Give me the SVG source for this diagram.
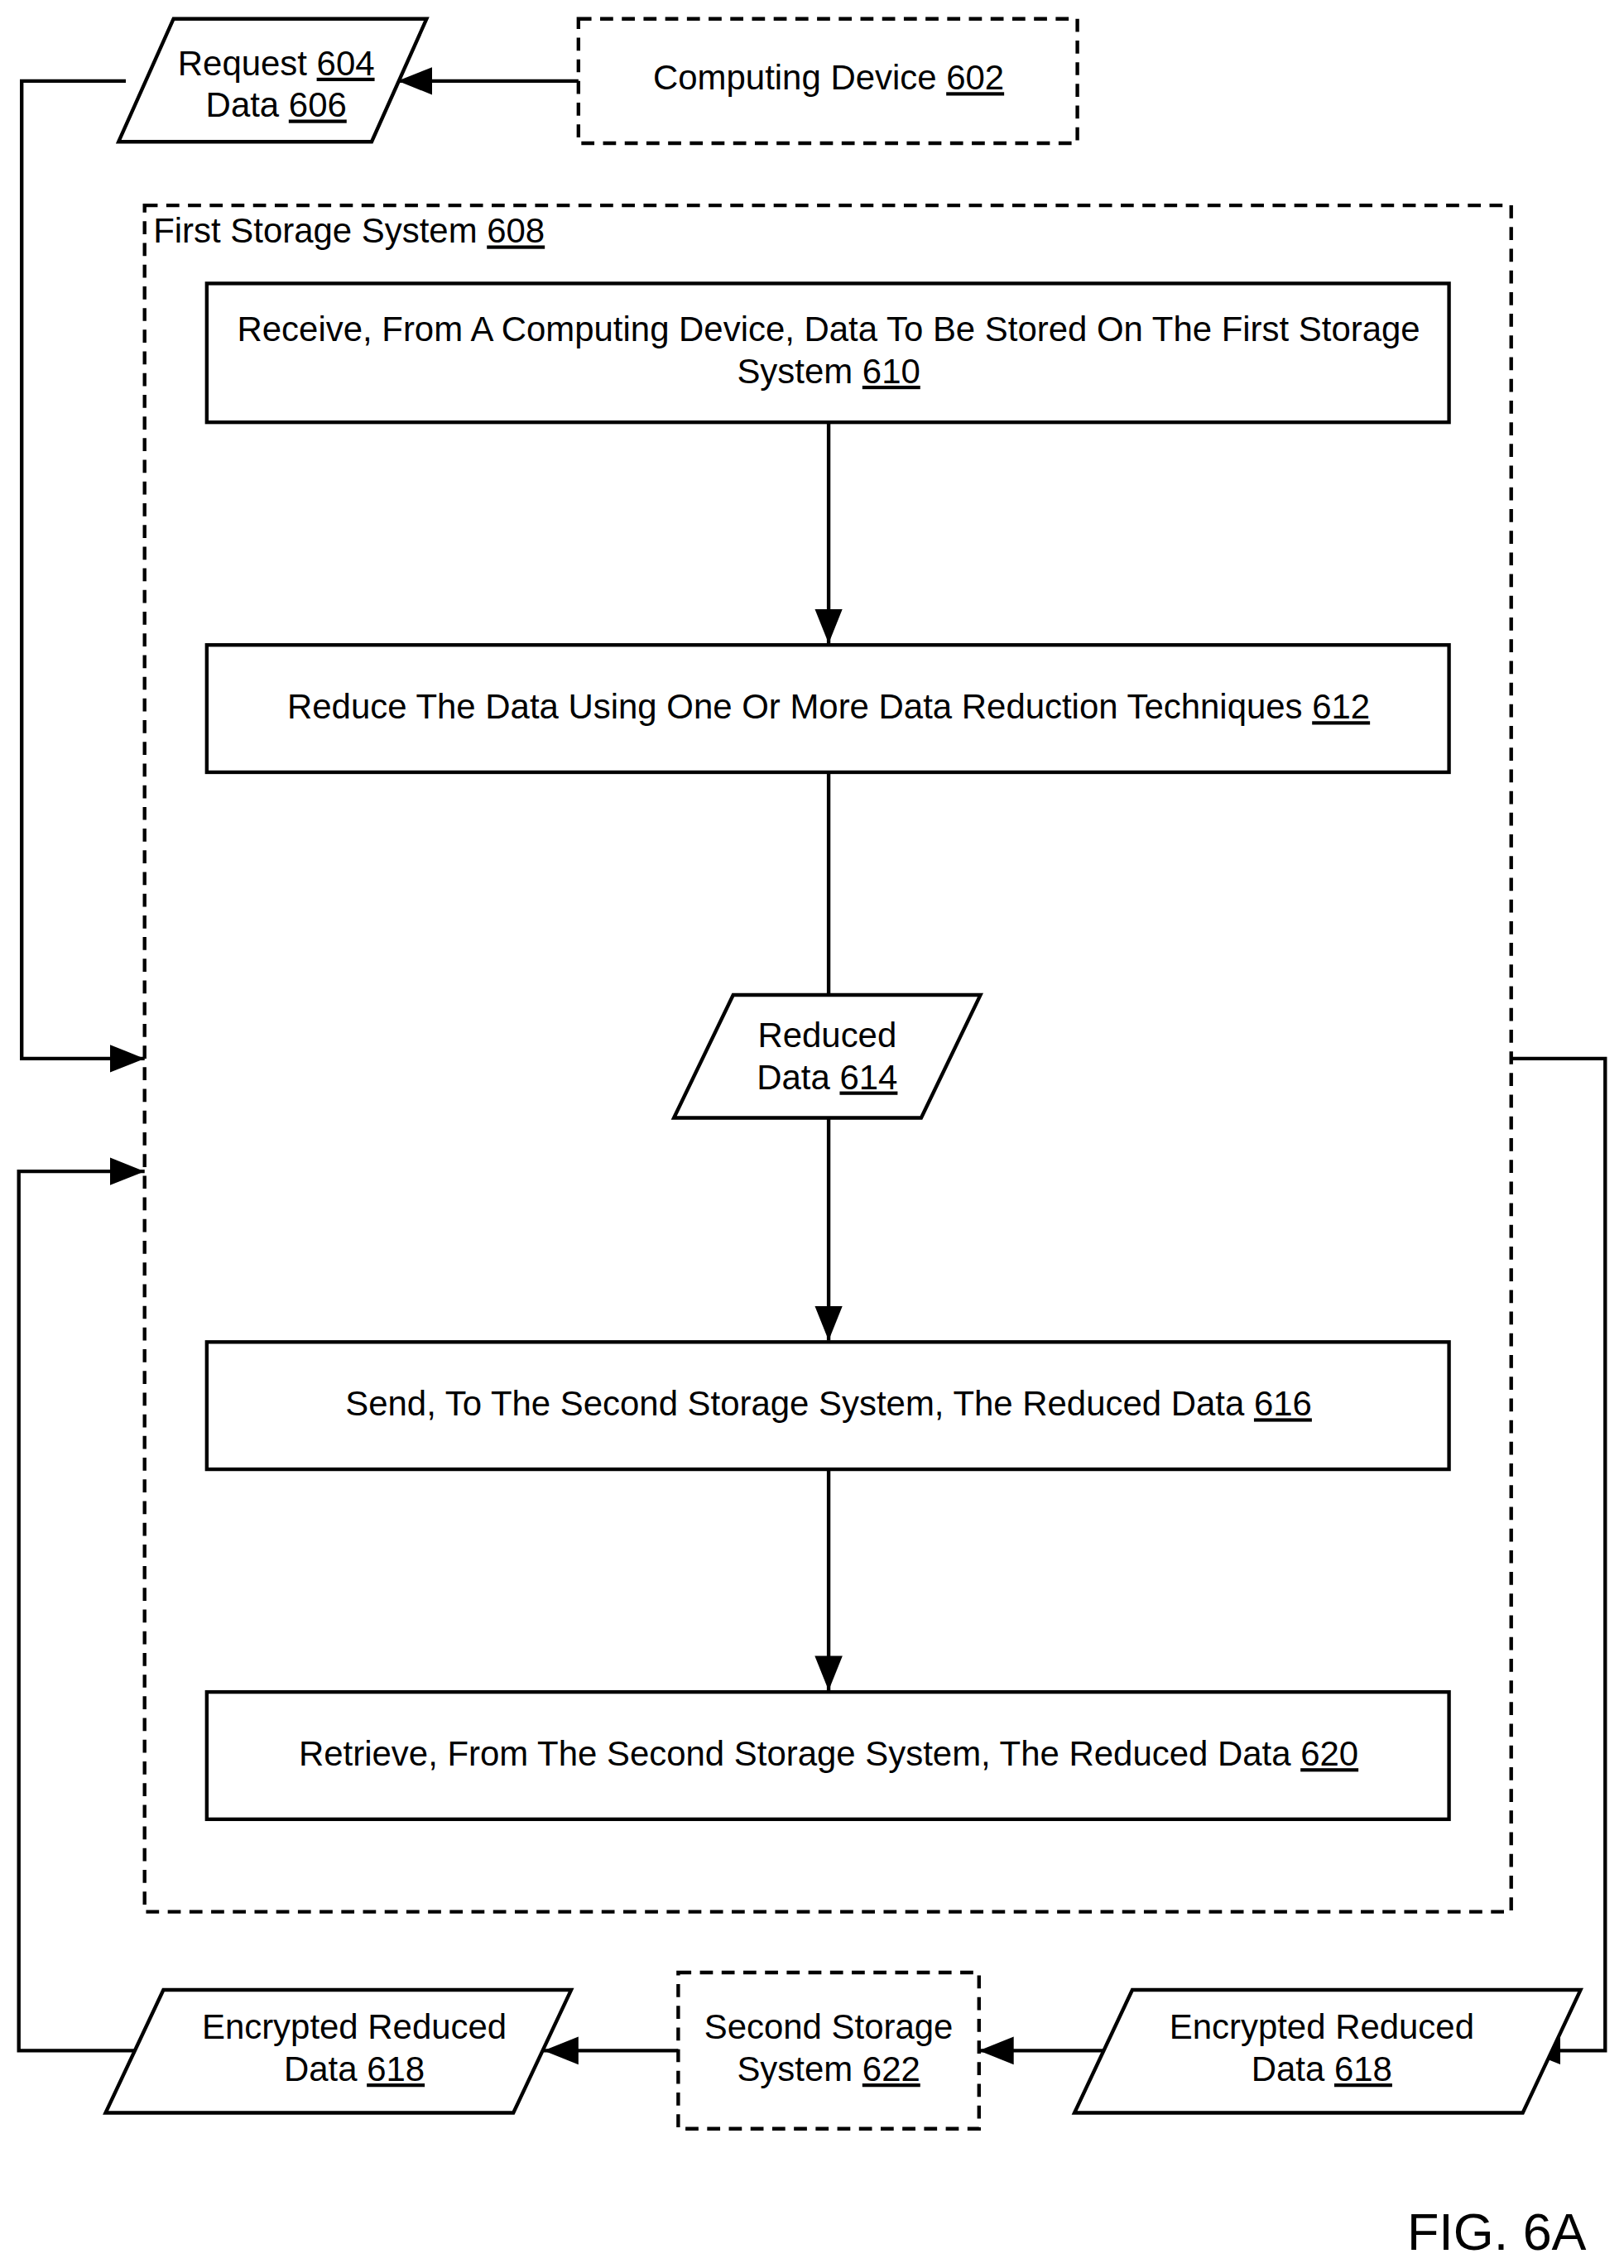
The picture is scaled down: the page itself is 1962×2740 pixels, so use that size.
<svg xmlns="http://www.w3.org/2000/svg" width="1962" height="2740" viewBox="0 0 1962 2740">
<defs>
<style>
.s{fill:#fff;stroke:#000;stroke-width:2.5}
.d{fill:none;stroke:#000;stroke-width:2.5;stroke-dasharray:9 6}
.c{fill:none;stroke:#000;stroke-width:2.5}
text{font-family:"Liberation Sans Narrow","Liberation Sans",Arial,sans-serif;font-size:24px;fill:#000;text-anchor:middle}
.u{text-decoration:underline}
</style>
<marker id="a" markerWidth="10" markerHeight="10" refX="9" refY="5" orient="auto" markerUnits="userSpaceOnUse"><path d="M0,0 L10,5 L0,10 Z" transform="scale(1)"/></marker>
<marker id="b" viewBox="0 0 10 10" refX="10" refY="5" markerWidth="24" markerHeight="24" orient="auto" markerUnits="userSpaceOnUse"><path d="M0,1 L10,5 L0,9 Z"/></marker>
</defs>
<rect width="1962" height="2740" fill="#fff"/>
<g transform="scale(1.7471)">
<g id="edges">
<path class="c" d="M400,56 H275" marker-end="url(#b)"/>
<path class="c" d="M87,56 H15 V732 H100" marker-end="url(#b)"/>
<path class="c" d="M573,292 V445" marker-end="url(#b)"/>
<path class="c" d="M573,534 V688"/>
<path class="c" d="M573,773 V927" marker-end="url(#b)"/>
<path class="c" d="M573,1016 V1169" marker-end="url(#b)"/>
<path class="c" d="M1045,732 H1110 V1418 H1055" marker-end="url(#b)"/>
<path class="c" d="M763,1418 H677" marker-end="url(#b)"/>
<path class="c" d="M469,1418 H376" marker-end="url(#b)"/>
<path class="c" d="M93,1418 H13 V810 H100" marker-end="url(#b)"/>
</g>
<g id="n604"><polygon class="s" points="82,98 120,13 295,13 257,98"/><text x="191" y="52">Request <tspan class="u">604</tspan></text><text x="191" y="81">Data <tspan class="u">606</tspan></text></g>
<g id="n602"><rect class="d" x="400" y="13" width="345" height="86"/><text x="573" y="62">Computing Device <tspan class="u">602</tspan></text></g>
<g id="n608"><rect class="d" x="100" y="142" width="945" height="1180"/><text x="106" y="168" style="text-anchor:start">First Storage System <tspan class="u">608</tspan></text></g>
<g id="n610"><rect class="s" x="143" y="196" width="859" height="96"/><text x="573" y="236">Receive, From A Computing Device, Data To Be Stored On The First Storage</text><text x="573" y="265">System <tspan class="u">610</tspan></text></g>
<g id="n612"><rect class="s" x="143" y="446" width="859" height="88"/><text x="573" y="497">Reduce The Data Using One Or More Data Reduction Techniques <tspan class="u">612</tspan></text></g>
<g id="n614"><polygon class="s" points="466,773 507,688 678,688 637,773"/><text x="572" y="724">Reduced</text><text x="572" y="753">Data <tspan class="u">614</tspan></text></g>
<g id="n616"><rect class="s" x="143" y="928" width="859" height="88"/><text x="573" y="979">Send, To The Second Storage System, The Reduced Data <tspan class="u">616</tspan></text></g>
<g id="n620"><rect class="s" x="143" y="1170" width="859" height="88"/><text x="573" y="1221">Retrieve, From The Second Storage System, The Reduced Data <tspan class="u">620</tspan></text></g>
<g id="n618r"><polygon class="s" points="743,1461 783,1376 1093,1376 1053,1461"/><text x="914" y="1410">Encrypted Reduced</text><text x="914" y="1439">Data <tspan class="u">618</tspan></text></g>
<g id="n622"><rect class="d" x="469" y="1364" width="208" height="108"/><text x="573" y="1410">Second Storage</text><text x="573" y="1439">System <tspan class="u">622</tspan></text></g>
<g id="n618l"><polygon class="s" points="73,1461 113,1376 395,1376 355,1461"/><text x="245" y="1410">Encrypted Reduced</text><text x="245" y="1439">Data <tspan class="u">618</tspan></text></g>
<text x="1035" y="1556" style="font-size:36px">FIG. 6A</text>
</g>
</svg>
